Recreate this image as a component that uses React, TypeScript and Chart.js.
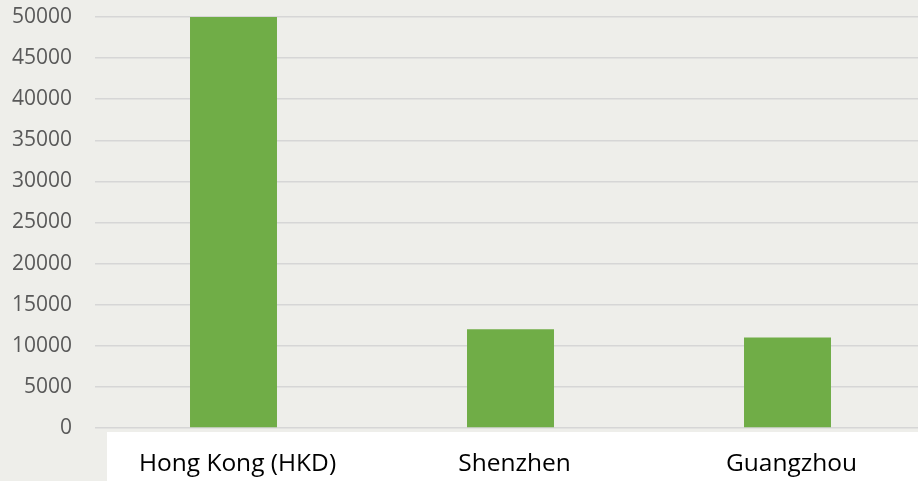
import React, { useEffect, useRef } from "react";
import { Chart, registerables } from "chart.js";

Chart.register(...registerables);

const categories = ["Hong Kong (HKD)", "Shenzhen", "Guangzhou"];
const values = [50000, 12000, 11000];
const yMin = 0;
const yMax = 50000;
const yStep = 5000;

const paperPlugin = {
  id: "paper",
  beforeDraw(chart: any) {
    const { ctx, width, height } = chart;
    ctx.save();
    ctx.fillStyle = "#eeeeea";
    ctx.fillRect(0, 0, width, height);
    ctx.fillStyle = "#ffffff";
    ctx.fillRect(107, 432, width - 107, height - 432);
    ctx.restore();
  },
};

export default function App() {
  const ref = useRef<HTMLCanvasElement | null>(null);

  useEffect(() => {
    if (!ref.current) return;
    const chart = new Chart(ref.current, {
      type: "bar",
      data: {
        labels: categories,
        datasets: [
          {
            data: values,
            backgroundColor: "#70AD47",
            borderWidth: 0,
            categoryPercentage: 1,
            barPercentage: 0.314,
          },
        ],
      },
      plugins: [paperPlugin],
      options: {
        animation: false,
        responsive: false,
        maintainAspectRatio: false,
        layout: { padding: { top: 17, right: 0, bottom: 0, left: 0 } },
        plugins: { legend: { display: false }, tooltip: { enabled: false } },
        scales: {
          x: {
            grid: { display: false, drawTicks: false },
            border: { display: false },
            ticks: {
              color: "#000000",
              font: { family: "Open Sans", size: 24.5 },
              padding: 21,
              labelOffset: 4,
              maxRotation: 0,
            },
            afterFit(scale: any) {
              scale.height = 53;
              scale.paddingLeft = 0;
              scale.paddingRight = 0;
            },
          },
          y: {
            min: yMin,
            max: yMax,
            grid: { color: "#d6d6d6", lineWidth: 1.5, drawTicks: false },
            border: { display: false },
            ticks: {
              stepSize: yStep,
              color: "#595959",
              font: { family: "Open Sans", size: 21 },
              padding: 23,
              callback: (v: any) => String(v),
            },
            afterFit(scale: any) {
              scale.width = 95;
              scale.paddingTop = 0;
              scale.paddingBottom = 0;
            },
          },
        },
      },
    });
    return () => chart.destroy();
  }, []);

  return (
    <div style={{ position: "absolute", left: 0, top: 0, width: 918, height: 481, overflow: "hidden" }}>
      <canvas ref={ref} width={926} height={481} style={{ display: "block", width: 926, height: 481 }} />
    </div>
  );
}
